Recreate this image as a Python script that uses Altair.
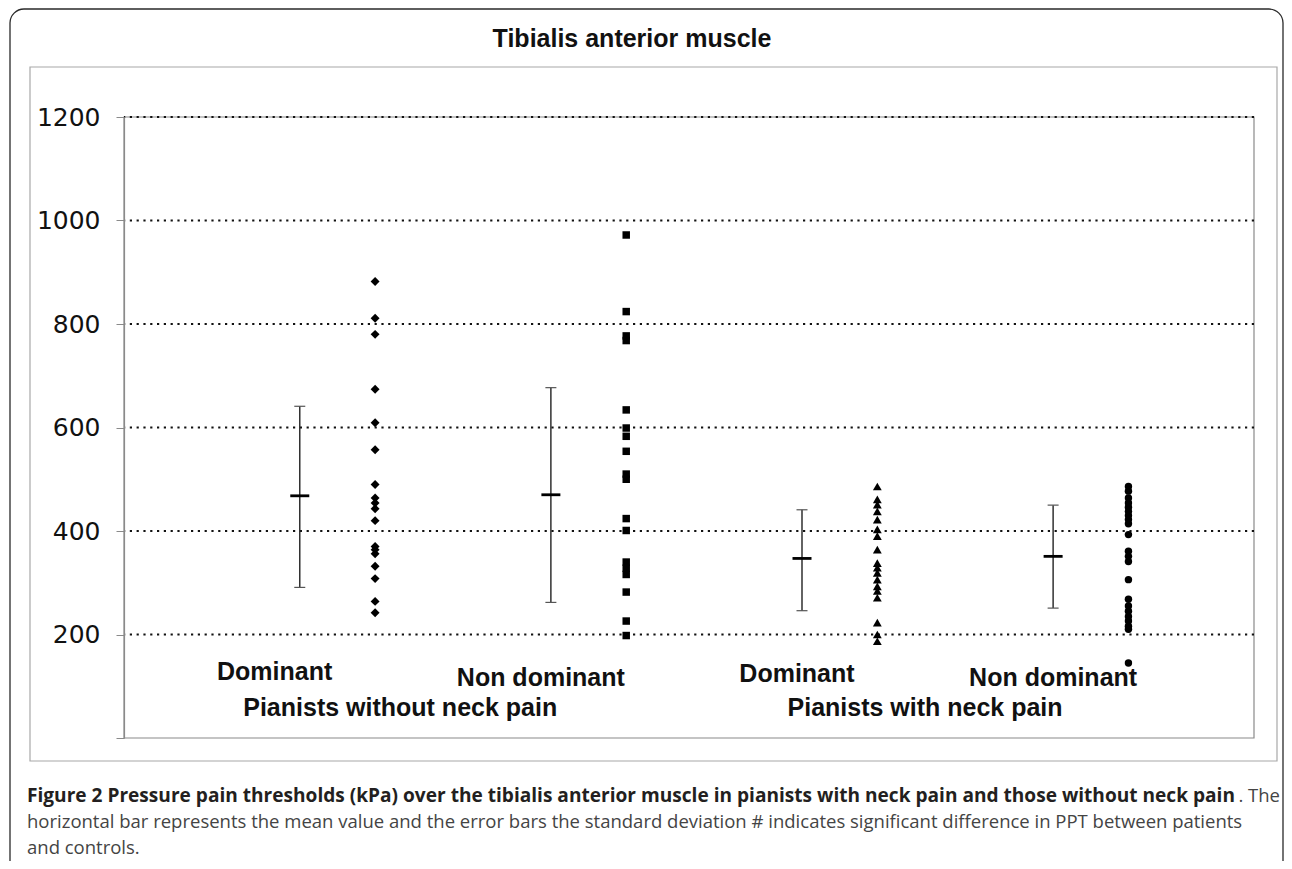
import altair as alt
import pandas as pd

# ---------------- data ----------------
groups = ["Dominant", "Non dominant", "Dominant", "Non dominant"]
pain_groups = ["Pianists without neck pain", "Pianists with neck pain"]
shapes = ["diamond", "square", "triangle-up", "circle"]

dom_no_pain = [882, 811, 780, 674, 609, 557, 490, 464, 454, 443, 420, 370, 364, 356, 332, 308, 264, 242]
nondom_no_pain = [972, 824, 777, 768, 634, 599, 583, 554, 510, 500, 424, 401, 340, 328, 316, 282, 226, 198]
dom_pain = [486, 461, 451, 438, 422, 403, 390, 364, 338, 329, 319, 306, 293, 284, 271, 223, 200, 187]
nondom_pain = [486, 477, 464, 454, 446, 438, 430, 422, 414, 393, 361, 351, 341, 306, 268, 255, 245, 235, 226, 216, 210, 145]
series = [dom_no_pain, nondom_no_pain, dom_pain, nondom_pain]

means = [468, 470, 347, 351]
sd_low = [291, 262, 246, 251]
sd_high = [641, 677, 441, 450]

y_ticks = [0, 200, 400, 600, 800, 1000, 1200]

title_text = "Tibialis anterior muscle"
caption_bold = ("Figure 2 Pressure pain thresholds (kPa) over the tibialis anterior muscle "
                "in pianists with neck pain and those without neck pain")
caption_tail = ". The"
caption_line2 = ("horizontal bar represents the mean value and the error bars the standard "
                 "deviation # indicates significant difference in PPT between patients")
caption_line3 = "and controls."

# ---------------- layout ----------------
W, H = 1130, 621
PX0, PY0 = 124, 117  # page position of the plot origin


def px(x):
    return x - PX0


def py(y):
    return y - PY0


xscale = alt.Scale(domain=[0, 4.5], nice=False, zero=False)
yscale = alt.Scale(domain=[0, 1200], nice=False, zero=True)
one = pd.DataFrame({"k": [0]})

layers = []

# frames
layers.append(
    alt.Chart(one).mark_rect(fill=None, stroke="#2a2a2a", strokeWidth=1.3, cornerRadius=14).encode(
        x=alt.value(px(10)), x2=alt.value(px(1283)), y=alt.value(py(9)), y2=alt.value(py(900))
    )
)
layers.append(
    alt.Chart(one).mark_rect(fill=None, stroke="#a8a8a8", strokeWidth=1.2).encode(
        x=alt.value(px(30)), x2=alt.value(px(1277)), y=alt.value(py(67)), y2=alt.value(py(761))
    )
)
layers.append(
    alt.Chart(one).mark_rect(fill=None, stroke="#8a8a8a", strokeWidth=1.2).encode(
        x=alt.value(0), x2=alt.value(W), y=alt.value(0), y2=alt.value(H)
    )
)

# gridlines (dotted)
grid_df = pd.DataFrame({"v": [t for t in y_ticks if t > 0]})
layers.append(
    alt.Chart(grid_df).mark_rule(color="#111", strokeDash=[2.2, 4.6], strokeWidth=1.8).encode(
        y=alt.Y("v:Q", scale=yscale, axis=alt.Axis(
            values=y_ticks, format="d", labelExpr="datum.value == 0 ? '' : datum.label",
            tickSize=8, tickColor="#8a8a8a", domainColor="#8a8a8a", domainWidth=1.2,
            labelFont="DejaVu Sans", labelFontSize=25, labelColor="#111", labelPadding=16,
            grid=False, title=None, zindex=2))
    )
)

# error bars
err = pd.DataFrame({
    "pos": [i + 0.7 for i in range(4)],
    "mean": means, "lo": sd_low, "hi": sd_high,
})
layers.append(
    alt.Chart(err).mark_rule(color="#222", strokeWidth=1.4).encode(
        x=alt.X("pos:Q", scale=xscale, axis=None),
        y=alt.Y("lo:Q", scale=yscale), y2="hi:Q")
)
for col in ["lo", "hi"]:
    layers.append(
        alt.Chart(err).mark_tick(orient="horizontal", size=11, thickness=1.2, color="#555", opacity=1).encode(
            x=alt.X("pos:Q", scale=xscale, axis=None), y=alt.Y(f"{col}:Q", scale=yscale))
    )
layers.append(
    alt.Chart(err).mark_tick(orient="horizontal", size=19, thickness=2.8, color="#000", opacity=1).encode(
        x=alt.X("pos:Q", scale=xscale, axis=None), y=alt.Y("mean:Q", scale=yscale))
)

# individual points
sizes = {"diamond": 80, "square": 56, "triangle-up": 78, "circle": 55}
for i, (vals, shp) in enumerate(zip(series, shapes)):
    df = pd.DataFrame({"pos": [i + 1.0] * len(vals), "value": vals})
    layers.append(
        alt.Chart(df).mark_point(shape=shp, filled=True, color="#000", opacity=1, size=sizes[shp]).encode(
            x=alt.X("pos:Q", scale=xscale, axis=None), y=alt.Y("value:Q", scale=yscale))
    )

# category labels
label_pos = [0.6, 1.66, 2.68, 3.70]
label_base = [680, 686, 682, 686]
for lab, p, b in zip(groups, label_pos, label_base):
    layers.append(
        alt.Chart(pd.DataFrame({"t": [lab], "pos": [p]})).mark_text(
            font="Liberation Sans", fontWeight="bold", fontSize=25, color="#111",
            align="center", baseline="alphabetic").encode(
            x=alt.X("pos:Q", scale=xscale, axis=None), y=alt.value(py(b)), text="t:N")
    )
pain_pos = [1.1, 3.19]
for lab, p in zip(pain_groups, pain_pos):
    layers.append(
        alt.Chart(pd.DataFrame({"t": [lab], "pos": [p]})).mark_text(
            font="Liberation Sans", fontWeight="bold", fontSize=25, color="#111",
            align="center", baseline="alphabetic").encode(
            x=alt.X("pos:Q", scale=xscale, axis=None), y=alt.value(py(716)), text="t:N")
    )

# title
layers.append(
    alt.Chart(pd.DataFrame({"t": [title_text]})).mark_text(
        font="Liberation Sans", fontWeight="bold", fontSize=25, color="#111",
        align="center", baseline="alphabetic").encode(
        x=alt.value(px(632)), y=alt.value(py(47)), text="t:N")
)

# caption
cap_font = "Open Sans"
layers.append(
    alt.Chart(pd.DataFrame({"t": [caption_bold]})).mark_text(
        font=cap_font, fontWeight="bold", fontSize=19.1, color="#231f20",
        align="left", baseline="alphabetic").encode(
        x=alt.value(px(27)), y=alt.value(py(802)), text="t:N")
)
layers.append(
    alt.Chart(pd.DataFrame({"t": [caption_tail]})).mark_text(
        font=cap_font, fontSize=18.5, color="#444",
        align="right", baseline="alphabetic").encode(
        x=alt.value(px(1280)), y=alt.value(py(802)), text="t:N")
)
for txt, b in [(caption_line2, 828), (caption_line3, 854)]:
    layers.append(
        alt.Chart(pd.DataFrame({"t": [txt]})).mark_text(
            font=cap_font, fontSize=18.5, color="#444",
            align="left", baseline="alphabetic").encode(
            x=alt.value(px(27)), y=alt.value(py(b)), text="t:N")
    )

chart = alt.layer(*layers).properties(
    width=W, height=H,
    autosize=alt.AutoSizeParams(type="none"),
    padding={"left": PX0 - 8, "top": PY0 - 8, "right": 30, "bottom": 123},
).configure_view(stroke=None)

chart.save("out.html", embed_options={"renderer": "svg", "actions": False})
